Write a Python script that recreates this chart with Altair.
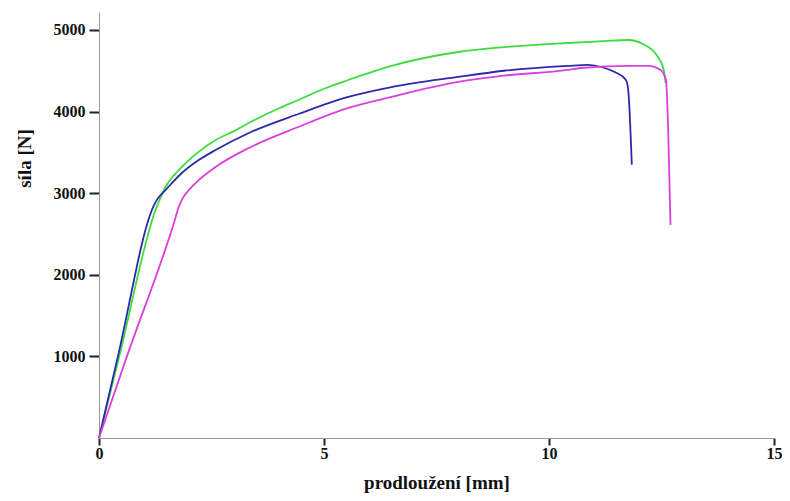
import altair as alt
import pandas as pd

# series data (prodloužení [mm], síla [N])
green_x = [0, 0.45, 1.26, 1.48, 1.84, 2.2, 2.59, 3.0, 3.33, 4.0, 4.43, 5.0, 5.54, 6.5, 7.98, 9.0, 10.42, 11.2, 11.75, 12.13, 12.42, 12.55, 12.59]
green_y = [0, 1000, 2800, 3076, 3321, 3500, 3652, 3760, 3860, 4040, 4142, 4280, 4387, 4560, 4730, 4790, 4840, 4862, 4877, 4816, 4669, 4510, 4350]

blue_x = [0, 0.42, 1.22, 1.3, 1.48, 1.84, 2.2, 2.59, 3.33, 4.43, 5.54, 6.5, 7.98, 9.0, 10.42, 10.86, 11.2, 11.46, 11.71, 11.76, 11.84]
blue_y = [0, 1000, 2850, 2930, 3039, 3247, 3400, 3529, 3738, 3970, 4179, 4300, 4424, 4500, 4559, 4571, 4540, 4485, 4387, 4265, 3350]

magenta_x = [0, 0.62, 1.7, 1.77, 1.84, 2.06, 2.22, 2.59, 3.33, 4.43, 5.54, 6.5, 7.98, 9.0, 10.42, 10.7, 11.82, 12.2, 12.48, 12.6, 12.65, 12.7]
magenta_y = [0, 1000, 2700, 2830, 2917, 3076, 3162, 3321, 3554, 3811, 4044, 4180, 4363, 4440, 4510, 4534, 4559, 4559, 4510, 4387, 3738, 2610]

series_names = ["A", "B", "C"]
series_colors = ["#3edc3e", "#2a2aa8", "#dc3edc"]

x_ticks = [0, 5, 10, 15]
y_ticks = [1000, 2000, 3000, 4000, 5000]

rows = []
for name, xs, ys in zip(series_names, [green_x, blue_x, magenta_x], [green_y, blue_y, magenta_y]):
    for i, (xv, yv) in enumerate(zip(xs, ys)):
        rows.append({"s": name, "x": xv, "y": yv, "o": i})
df = pd.DataFrame(rows)

font = "Liberation Serif"

chart = alt.Chart(df).mark_line(strokeWidth=1.8, interpolate="monotone").encode(
    x=alt.X("x:Q", scale=alt.Scale(domain=[0, 15], nice=False),
            axis=alt.Axis(values=x_ticks, format="d", title="prodloužení [mm]", grid=False,
                          labelFlush=False, labelOverlap=False,
                          tickSize=7, labelPadding=0, titleY=44, titleBaseline="middle")),
    y=alt.Y("y:Q", scale=alt.Scale(domain=[0, 5220], nice=False),
            axis=alt.Axis(values=y_ticks, format="d", title="síla [N]", grid=False,
                          tickSize=10, labelPadding=4, titleX=-75, titleY=146,
                          titleAlign="center", titleBaseline="middle", titleAngle=270)),
    color=alt.Color("s:N", scale=alt.Scale(domain=series_names, range=series_colors), legend=None),
    order="o:Q",
    detail="s:N",
).properties(
    width=675, height=426,
    autosize=alt.AutoSizeParams(type="none"),
    padding={"left": 91, "top": 4, "right": 8, "bottom": 55},
).configure_view(stroke=None).configure_axis(
    labelFont=font, titleFont=font, labelFontWeight="bold", titleFontWeight="bold",
    labelFontSize=16, titleFontSize=19, labelColor="#111", titleColor="#111",
    domainColor="#999", tickColor="#222", tickWidth=2, domainWidth=1,
)

chart.save("out.html", embed_options={"renderer": "svg", "actions": False})
